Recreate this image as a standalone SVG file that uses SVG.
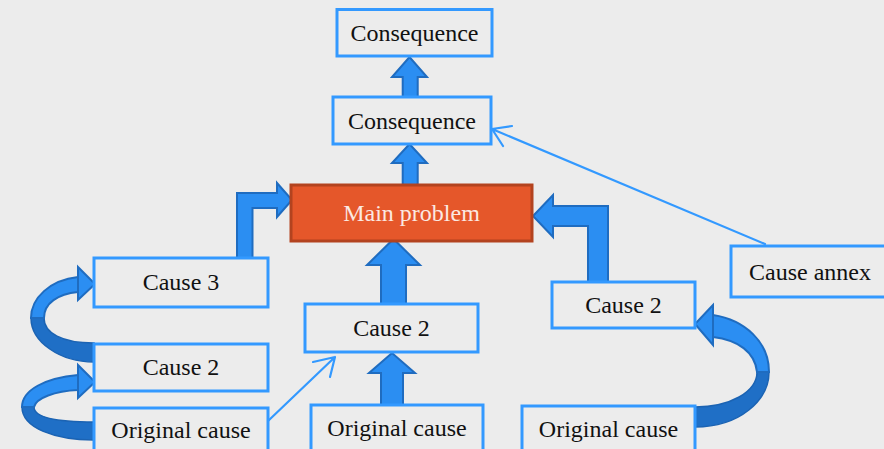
<svg xmlns="http://www.w3.org/2000/svg" width="884" height="449" viewBox="0 0 884 449">
<style>
.box{fill:#ececec;stroke:#3399ff;stroke-width:3}
.main{fill:#e5572a;stroke:#b3431f;stroke-width:3}
.t{font-family:"Liberation Serif","Times New Roman",serif;font-size:24px;fill:#111;text-anchor:middle}
.tw{fill:#fbe9e2}
.ba{fill:#2b8ef2;stroke:#1f6cc0;stroke-width:2;stroke-linejoin:miter}
.bd{fill:#1f6fc6;stroke:#1b63b3;stroke-width:1.5}
.thin{fill:none;stroke:#3399ff;stroke-width:2.2;stroke-linecap:round;stroke-linejoin:round}
</style>
<rect width="884" height="449" fill="#ececec"/>
<g id="connectors">
  <path class="ba" d="M402.7,97 V77 H392 L409.5,57 L427,77 H417.7 V97 Z"/>
  <path class="ba" d="M402.7,185 V163 H392 L409.5,144 L427,163 H417.7 V185 Z"/>
  <path class="ba" d="M381,304 V265 H367 L393.5,239 L420,265 H406 V304 Z"/>
  <path class="ba" d="M381,405 V373 H369 L392,353 L415,373 H403 V405 Z"/>
  <path class="ba" d="M237,258 V193 H277 V183 L292,200 L277,217 V208 H252.5 V258 Z"/>
  <path class="ba" d="M608,282 V206 H553 V195 L533,216 L553,237 V226 H588 V282 Z"/>
  <path class="bd" d="M31,318 C31,342 60,362 94,362 L94,343 C62,343 44,333 44,318 Z"/>
  <path class="ba" d="M78,277 C50,280 31,298 31,318 L44,318 C44,303 58,294 78,292 Z"/>
  <path class="ba" d="M78,267 L95,284 L78,300 Z"/>
  <path class="bd" d="M22,407 C22,428 55,440 94,440 L94,422 C60,422 34,418 34,407 Z"/>
  <path class="ba" d="M78,375 C45,378 22,390 22,407 L34,407 C36,398 55,391 78,390 Z"/>
  <path class="ba" d="M78,365 L95,382 L78,398 Z"/>
  <path class="bd" d="M769,372 C769,400 740,427 695,427 L695,407 C730,407 757,392 757,372 Z"/>
  <path class="ba" d="M713,315 C745,320 769,342 769,372 L757,372 C755,352 738,340 713,337 Z"/>
  <path class="ba" d="M713,305 L695,324 L713,345 Z"/>
  <path class="thin" d="M765,244 L492,129 M512,126 L492,129 L503,146"/>
  <path class="thin" d="M268,421 L335,357 M313,362 L335,357 L330,377"/>
</g>
<g id="consequence-top"><rect class="box" x="337" y="9.5" width="155" height="46.5"/><text class="t" x="414.5" y="41">Consequence</text></g>
<g id="consequence"><rect class="box" x="333" y="97" width="158" height="47"/><text class="t" x="412" y="128.5">Consequence</text></g>
<g id="main-problem"><rect class="main" x="291" y="185" width="241" height="56"/><text class="t tw" x="411.5" y="221">Main problem</text></g>
<g id="cause3"><rect class="box" x="94" y="258" width="174" height="49"/><text class="t" x="181" y="290">Cause 3</text></g>
<g id="cause2-left"><rect class="box" x="94" y="344" width="174" height="47"/><text class="t" x="181" y="375">Cause 2</text></g>
<g id="original-left"><rect class="box" x="94" y="408" width="174" height="60"/><text class="t" x="181" y="438">Original cause</text></g>
<g id="cause2-mid"><rect class="box" x="305" y="304" width="173" height="48"/><text class="t" x="391.5" y="336">Cause 2</text></g>
<g id="original-mid"><rect class="box" x="311" y="405" width="172" height="60"/><text class="t" x="397" y="436">Original cause</text></g>
<g id="cause2-right"><rect class="box" x="552" y="282" width="143" height="46"/><text class="t" x="623.5" y="313">Cause 2</text></g>
<g id="original-right"><rect class="box" x="522" y="406" width="173" height="60"/><text class="t" x="608.5" y="437">Original cause</text></g>
<g id="cause-annex"><rect class="box" x="731" y="246" width="160" height="51"/><text class="t" x="810" y="280">Cause annex</text></g>
</svg>
